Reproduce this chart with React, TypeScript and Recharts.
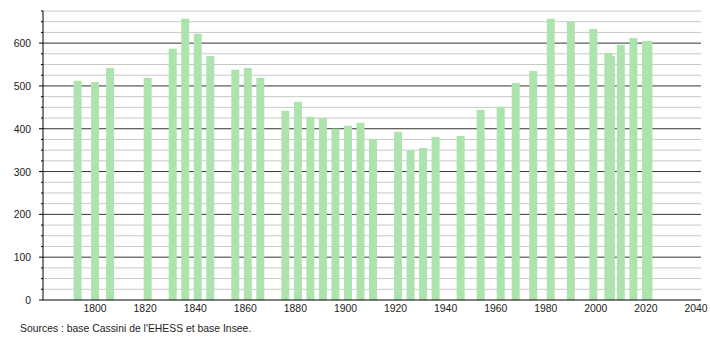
import React from "react";
import { ComposedChart, Bar, XAxis, YAxis, CartesianGrid } from "recharts";

const years = [
  1793, 1800, 1806, 1821, 1831, 1836, 1841, 1846, 1856, 1861, 1866, 1876, 1881,
  1886, 1891, 1896, 1901, 1906, 1911, 1921, 1926, 1931, 1936, 1946, 1954, 1962,
  1968, 1975, 1982, 1990, 1999, 2005, 2006, 2010, 2015, 2020, 2021,
];
const population = [
  512, 509, 542, 519, 587, 657, 622, 570, 538, 542, 519, 442, 463,
  428, 425, 400, 407, 414, 376, 393, 350, 355, 381, 383, 444, 451,
  507, 535, 657, 650, 633, 577, 570, 596, 612, 605, 605,
];
const xTicks = [1800, 1820, 1840, 1860, 1880, 1900, 1920, 1940, 1960, 1980, 2000, 2020, 2040];
const yTicks = [
  0, 25, 50, 75, 100, 125, 150, 175, 200, 225, 250, 275, 300, 325, 350, 375,
  400, 425, 450, 475, 500, 525, 550, 575, 600, 625, 650, 675,
];
const majorValues = [100, 200, 300, 400, 500, 600];
const minorValues = yTicks.filter((v) => v > 0 && v % 100 !== 0);
const sourceText = "Sources : base Cassini de l'EHESS et base Insee.";

const data = years.map((year, i) => ({ year, pop: population[i] }));

const FONT = "'Liberation Sans', Arial, sans-serif";
const BAR_COLOR = "#ade3ad";
const BAR_WIDTH = 8;

const YTick = (props: any) => {
  const { x, y, payload } = props;
  const v = payload.value;
  const major = v % 100 === 0;
  return (
    <g>
      <line x1={x - (major ? 4 : 2)} x2={x} y1={y} y2={y} stroke="#000" strokeWidth={1} />
      {major && v <= 600 ? (
        <text x={x - 12} y={y + 4} textAnchor="end" fontSize={10.4} fontFamily={FONT} fill="#222">
          {v}
        </text>
      ) : null}
    </g>
  );
};

const XTick = (props: any) => {
  const { x, y, payload } = props;
  return (
    <text x={x} y={y + 12} textAnchor="middle" fontSize={10.4} fontFamily={FONT} fill="#222">
      {payload.value}
    </text>
  );
};

const BarShape = (props: any) => {
  const { x, y, width, height } = props;
  if (height == null || height <= 0) return null;
  const cx = x + width / 2;
  return <rect x={cx - BAR_WIDTH / 2} y={y} width={BAR_WIDTH} height={height} fill={BAR_COLOR} />;
};

export default function App() {
  return (
    <div style={{ position: "absolute", left: 0, top: 0, width: 710, height: 340, background: "#fff" }}>
      <ComposedChart
        width={710}
        height={340}
        data={data}
        margin={{ top: 11, right: 9, bottom: 10, left: 0 }}
      >
        <CartesianGrid vertical={false} horizontalValues={minorValues} stroke="#c8c8c8" strokeWidth={1} />
        <CartesianGrid vertical={false} horizontalValues={majorValues} stroke="#333" strokeWidth={1} />
        <XAxis
          dataKey="year"
          type="number"
          domain={[1779.2, 2042]}
          allowDataOverflow
          ticks={xTicks}
          interval={0}
          tickLine={false}
          tickSize={0}
          tickMargin={0}
          axisLine={{ stroke: "#000" }}
          tick={<XTick />}
          height={30}
        />
        <YAxis
          type="number"
          domain={[0, 675]}
          ticks={yTicks}
          interval={0}
          allowDataOverflow
          tickLine={false}
          tickSize={0}
          tickMargin={0}
          axisLine={{ stroke: "#000" }}
          tick={<YTick />}
          width={43}
        />
        <Bar dataKey="pop" fill={BAR_COLOR} shape={<BarShape />} isAnimationActive={false} />
      </ComposedChart>
      <div
        style={{
          position: "absolute",
          left: 20,
          top: 322,
          fontFamily: FONT,
          fontSize: 10.4,
          lineHeight: "13px",
          color: "#222",
          whiteSpace: "nowrap",
        }}
      >
        {sourceText}
      </div>
    </div>
  );
}
